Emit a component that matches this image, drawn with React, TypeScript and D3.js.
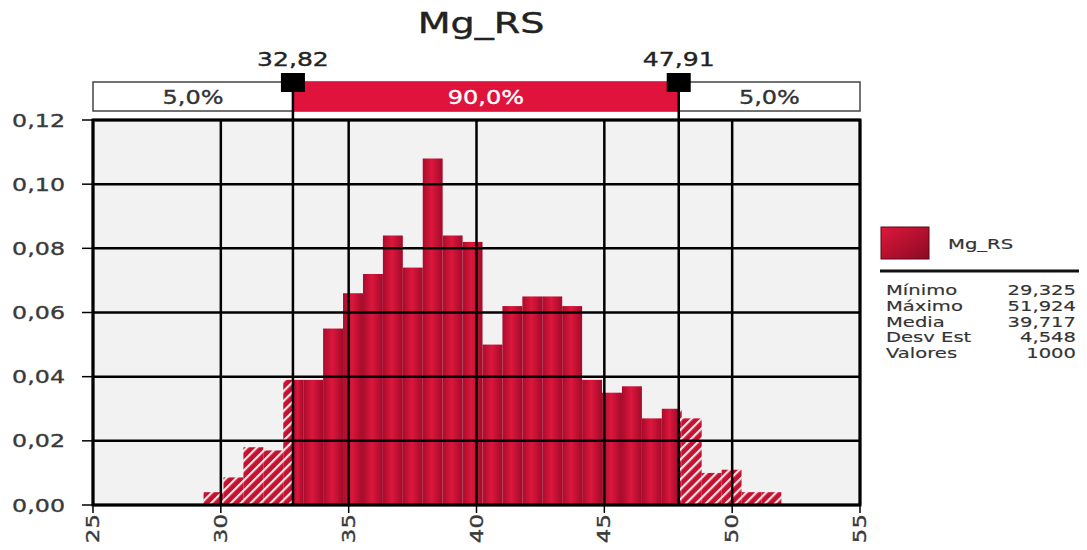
import React from 'react';
import * as d3 from 'd3';

// histogram of Mg_RS (density per bin, 29 bins from min to max)
const binMin = 29.325;
const binMax = 51.924;
const density = [
  0.004, 0.0086, 0.018, 0.017, 0.039, 0.039, 0.055, 0.066, 0.072, 0.084,
  0.074, 0.108, 0.084, 0.082, 0.050, 0.062, 0.065, 0.065, 0.062, 0.039,
  0.035, 0.037, 0.027, 0.030, 0.027, 0.010, 0.011, 0.004, 0.004,
];

const leftCut = 32.82;
const rightCut = 47.91;
const bandLabels = ['5,0%', '90,0%', '5,0%'];

const xTicks = [25, 30, 35, 40, 45, 50, 55];
const yTicks = [0, 0.02, 0.04, 0.06, 0.08, 0.1, 0.12];

const seriesName = 'Mg_RS';
const statNames = ['Mínimo', 'Máximo', 'Media', 'Desv Est', 'Valores'];
const statValues = ['29,325', '51,924', '39,717', '4,548', '1000'];

const W = 1087;
const H = 550;
const m = { left: 93, right: 860, top: 120, bottom: 505 };
const FONT = 'DejaVu Sans, Verdana, sans-serif';
const SX = 1.32;
const RED = '#e0133d';

const loc = d3.formatLocale({ decimal: ',', thousands: '.', grouping: [3], currency: ['', ''] });
const fmtY = loc.format('.2f');
const fmtCut = loc.format('.2f');

function Txt(props: any) {
  const { x, y, size, sx = SX, anchor = 'middle', fill = '#333', rot = 0, dy, sw = 0.35, children } = props;
  const tr = `translate(${x},${y})` + (rot ? ` rotate(${rot})` : '') + ` scale(${sx},1)`;
  return (
    <text
      transform={tr}
      fontFamily={FONT}
      fontSize={size}
      textAnchor={anchor}
      fill={fill}
      stroke={fill}
      strokeWidth={sw}
      dy={dy}
    >
      {children}
    </text>
  );
}

export default function App() {
  const x = d3.scaleLinear().domain([25, 55]).range([m.left, m.right]);
  const y = d3.scaleLinear().domain([0, 0.12]).range([m.bottom, m.top]);
  const bw = (binMax - binMin) / density.length;

  // split every bin into solid (inside cuts) and hatched (outside cuts) parts
  const pieces: { x0: number; x1: number; v: number; solid: boolean }[] = [];
  density.forEach((v, i) => {
    const a = binMin + i * bw;
    const b = a + bw;
    const segs: [number, number, boolean][] = [
      [a, Math.min(b, leftCut), false],
      [Math.max(a, leftCut), Math.min(b, rightCut), true],
      [Math.max(a, rightCut), b, false],
    ];
    segs.forEach(([s0, s1, solid]) => {
      if (s1 > s0) pieces.push({ x0: s0, x1: s1, v, solid });
    });
  });

  const cuts = [leftCut, rightCut];
  const bandEdges = [25, leftCut, rightCut, 55];
  const boxTop = 82;
  const boxBot = 111;

  return (
    <svg width={W} height={H} style={{ position: 'absolute', left: 0, top: 0, background: '#fff' }}>
      <defs>
        <linearGradient id="barGrad" x1="0" x2="1" y1="0" y2="0">
          <stop offset="0%" stopColor="#a90c2c" />
          <stop offset="45%" stopColor="#dc163d" />
          <stop offset="100%" stopColor="#a20b29" />
        </linearGradient>
        <pattern id="hatch" width="7" height="7" patternUnits="userSpaceOnUse" patternTransform="rotate(45)">
          <rect width="7" height="7" fill="#c4112f" />
          <rect x="0" y="0" width="2.2" height="7" fill="#fbe4e8" />
        </pattern>
        <linearGradient id="legGrad" x1="0" x2="1" y1="0" y2="1">
          <stop offset="0%" stopColor="#e0173d" />
          <stop offset="100%" stopColor="#8a0a22" />
        </linearGradient>
      </defs>

      {/* title */}
      <Txt x={481} y={33} size={28} sx={1.36} fill="#222" sw={0.4}>{seriesName}</Txt>

      {/* plot background */}
      <rect x={m.left} y={m.top} width={m.right - m.left} height={m.bottom - m.top} fill="#f2f2f2" />

      {/* bars */}
      {pieces.map((p, i) => (
        <rect
          key={i}
          x={x(p.x0)}
          y={y(p.v)}
          width={x(p.x1) - x(p.x0)}
          height={y(0) - y(p.v)}
          fill={p.solid ? 'url(#barGrad)' : 'url(#hatch)'}
        />
      ))}

      {/* grid */}
      {xTicks.map((t) => (
        <line key={'gx' + t} x1={x(t)} x2={x(t)} y1={m.top} y2={m.bottom} stroke="#000" strokeWidth={2.5} />
      ))}
      {yTicks.map((t) => (
        <line key={'gy' + t} x1={m.left} x2={m.right} y1={y(t)} y2={y(t)} stroke="#000" strokeWidth={2.5} />
      ))}
      <rect x={m.left} y={m.top} width={m.right - m.left} height={m.bottom - m.top} fill="none" stroke="#000" strokeWidth={3} />

      {/* y axis */}
      {yTicks.map((t) => (
        <g key={'yt' + t}>
          <line x1={m.left - 11} x2={m.left} y1={y(t)} y2={y(t)} stroke="#000" strokeWidth={1.5} />
          <Txt x={65} y={y(t) + 6.5} size={18} anchor="end" fill="#3a3a3a">{fmtY(t)}</Txt>
        </g>
      ))}

      {/* x axis */}
      {xTicks.map((t) => (
        <g key={'xt' + t}>
          <line x1={x(t)} x2={x(t)} y1={m.bottom} y2={m.bottom + 8} stroke="#000" strokeWidth={1.5} />
          <Txt x={x(t)} y={514} size={17} sx={1.35} rot={-90} anchor="end" dy="0.36em" fill="#3a3a3a">{t}</Txt>
        </g>
      ))}

      {/* percentage band */}
      <rect x={x(25)} y={boxTop} width={x(55) - x(25)} height={boxBot - boxTop} fill="#fff" stroke="#444" strokeWidth={1.5} />
      <rect x={x(leftCut)} y={boxTop} width={x(rightCut) - x(leftCut)} height={boxBot - boxTop} fill={RED} />
      {bandLabels.map((l, i) => (
        <Txt
          key={'bl' + i}
          x={(x(bandEdges[i]) + x(bandEdges[i + 1])) / 2}
          y={104}
          size={20}
          sx={1.2}
          fill={i === 1 ? '#fff' : '#333'}
        >
          {l}
        </Txt>
      ))}

      {/* cut markers */}
      {cuts.map((c) => (
        <g key={'c' + c}>
          <line x1={x(c)} x2={x(c)} y1={82} y2={m.bottom} stroke="#000" strokeWidth={2.5} />
          <rect x={x(c) - 12} y={73} width={24} height={19} fill="#000" />
          <Txt x={x(c)} y={66} size={19} sx={1.32} fill="#222">{fmtCut(c)}</Txt>
        </g>
      ))}

      {/* legend */}
      <rect x={881} y={227} width={48} height={32} fill="url(#legGrad)" stroke="#5a0715" strokeWidth={1} />
      <Txt x={948} y={249} size={14} anchor="start" sx={1.4} fill="#333" sw={0.2}>{seriesName}</Txt>
      <line x1={880} x2={1079} y1={271} y2={271} stroke="#111" strokeWidth={3} />
      {statNames.map((s, i) => (
        <g key={'st' + i}>
          <Txt x={886} y={295 + i * 15.8} size={13.5} anchor="start" sx={1.45} fill="#333" sw={0.15}>{s}</Txt>
          <Txt x={1076} y={295 + i * 15.8} size={13.5} anchor="end" sx={1.45} fill="#333" sw={0.15}>{statValues[i]}</Txt>
        </g>
      ))}
    </svg>
  );
}
